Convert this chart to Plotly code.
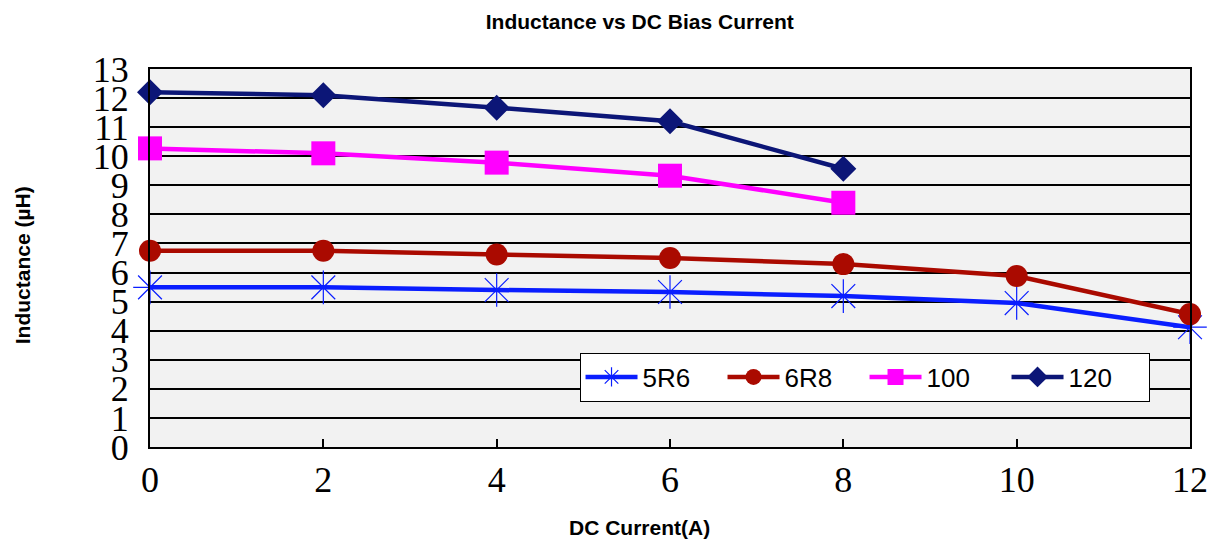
import plotly.graph_objects as go

current = [0, 2, 4, 6, 8, 10, 12]
l_5r6 = [5.49, 5.49, 5.40, 5.33, 5.19, 4.95, 4.12]
l_6r8 = [6.75, 6.75, 6.62, 6.50, 6.29, 5.88, 4.57]
current_short = [0, 2, 4, 6, 8]
l_100 = [10.27, 10.10, 9.78, 9.33, 8.40]
l_120 = [12.20, 12.10, 11.67, 11.20, 9.57]

x_ticks = [0, 2, 4, 6, 8, 10, 12]
y_ticks = list(range(0, 14))

fig = go.Figure()

fig.add_trace(go.Scatter(
    x=current, y=l_5r6, name="5R6", mode="lines+markers",
    line=dict(color="#0a1eff", width=4.5),
    marker=dict(symbol="asterisk-open", size=28,
                line=dict(color="#5a5aff", width=1.2)),
    cliponaxis=False,
))
fig.add_trace(go.Scatter(
    x=current, y=l_6r8, name="6R8", mode="lines+markers",
    line=dict(color="#aa0a00", width=4.5),
    marker=dict(symbol="circle", size=22, color="#aa0a00"),
    cliponaxis=False,
))
fig.add_trace(go.Scatter(
    x=current_short, y=l_100, name="100", mode="lines+markers",
    line=dict(color="#ff00ff", width=4.5),
    marker=dict(symbol="square", size=24, color="#ff00ff"),
    cliponaxis=False,
))
fig.add_trace(go.Scatter(
    x=current_short, y=l_120, name="120", mode="lines+markers",
    line=dict(color="#0c1677", width=4.5),
    marker=dict(symbol="diamond", size=20, color="#0c1677"),
    cliponaxis=False,
))

serif = dict(family="Liberation Serif", size=36, color="black")
bold = dict(family="Liberation Sans", size=21, color="black", weight="bold")

fig.update_layout(
    width=1214, height=544,
    margin=dict(l=150, r=24, t=69, b=97, autoexpand=False),
    paper_bgcolor="white",
    plot_bgcolor="#f2f2f2",
    title=dict(text="Inductance vs DC Bias Current", font=bold,
               x=0.527, xanchor="center", y=0.9596, yanchor="middle",
               automargin=False),
    xaxis=dict(range=[0, 12], tickvals=x_ticks, showgrid=False, zeroline=False,
               showline=True, linecolor="black", linewidth=2, mirror=True,
               ticks="inside", ticklen=8, tickcolor="black", tickwidth=1.5,
               tickfont=serif, automargin=False, ticklabeloverflow="allow"),
    yaxis=dict(range=[0, 13], tickvals=y_ticks, showgrid=True, gridcolor="black",
               gridwidth=1.5, zeroline=False, showline=True, linecolor="black",
               linewidth=2, mirror=True, ticks="", ticklabelstandoff=12,
               tickfont=serif, automargin=False, ticklabeloverflow="allow"),
    legend=dict(orientation="h", x=0.413, y=0.25, xanchor="left", yanchor="top",
                bgcolor="white", bordercolor="black", borderwidth=1,
                font=dict(family="Liberation Sans", size=26, color="black"),
                itemwidth=52, entrywidth=75, tracegroupgap=0),
    showlegend=True,
)

fig.add_annotation(text="DC Current(A)", xref="paper", yref="paper",
                   x=0.471, y=-0.2135, xanchor="center", yanchor="middle",
                   showarrow=False, font=bold)
fig.add_annotation(text="Inductance (µH)", xref="paper", yref="paper",
                   x=-0.123, y=0.481, xanchor="center", yanchor="middle",
                   textangle=-90, showarrow=False, font=bold)

# drop the default 8px body margin so the figure fills the window exactly
fig.write_html("out.html", config={"displayModeBar": False},
               post_script="document.body.style.margin = '0px';")
